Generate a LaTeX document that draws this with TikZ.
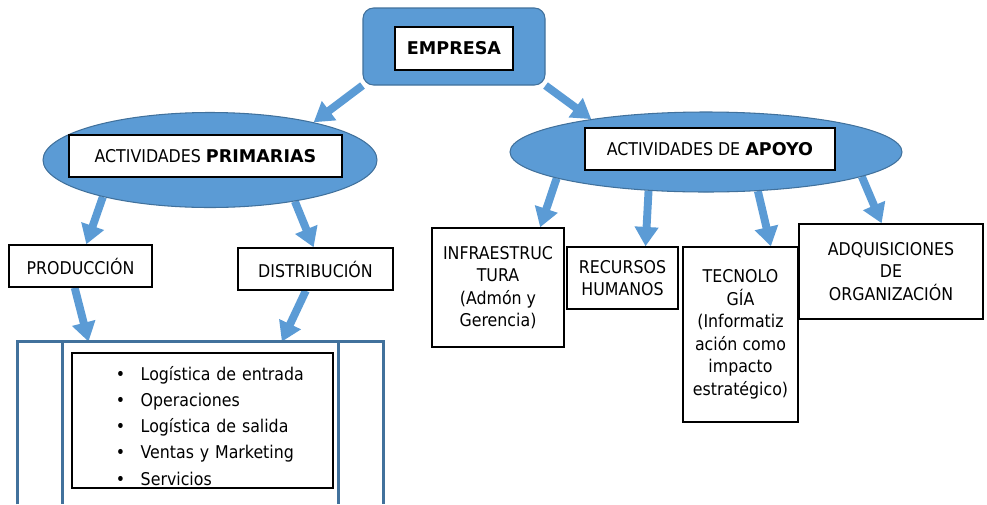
\documentclass[tikz,border=0pt]{standalone}
\usepackage{fontspec}
\setmainfont{DejaVu Sans Condensed}[BoldFont=DejaVu Sans Bold]
\usepackage{xcolor}
\usepackage{tikz}
\usetikzlibrary{shapes.geometric, arrows.meta, backgrounds}
\definecolor{azul}{HTML}{5B9BD5}
\definecolor{azuloscuro}{HTML}{41719C}
\newcommand{\puntolista}[1]{\hspace*{0.84cm}\makebox[0.5cm][l]{\textbullet}#1}
\tikzset{
    caja/.style={draw, rectangle, fill=white, line width=0.8pt, align=center, inner sep=2pt},
    nube/.style={draw=azuloscuro, ellipse, fill=azul, line width=0.6pt},
    flecha/.style={-{Triangle[width=13pt,length=11pt]}, draw=azul, line width=4.5pt}
}

\begin{document}
\begin{tikzpicture}[x=0.2mm, y=-0.2mm, font=\fontsize{10}{12.8}\selectfont]
    \useasboundingbox (0,0) rectangle (987,504);

    \node[draw=azuloscuro, fill=azul, line width=0.6pt, rounded corners=6pt, minimum width=3.64cm, minimum height=1.54cm] (empresa) at (454,46.5) {};
    \node[caja, minimum width=2.36cm, minimum height=0.86cm] (empresatxt) at (454,48.5) {\textbf{EMPRESA}};

    \node[nube, minimum width=6.68cm, minimum height=1.9cm] (primarias) at (210,160) {};
    \node[caja, minimum width=5.46cm, minimum height=0.84cm] (primariastxt) at (205.5,156) {ACTIVIDADES \textbf{PRIMARIAS}};
    \node[nube, minimum width=7.84cm, minimum height=1.6cm] (apoyo) at (706,152) {};
    \node[caja, minimum width=5cm, minimum height=0.84cm] (apoyotxt) at (710,149) {ACTIVIDADES DE \textbf{APOYO}};

    \node[caja, minimum width=2.86cm, minimum height=0.84cm] (produccion) at (80.5,266) {PRODUCCIÓN};
    \node[caja, minimum width=3.1cm, minimum height=0.84cm] (distribucion) at (315.5,269) {DISTRIBUCIÓN};

    \node[rectangle, minimum width=7.3cm, minimum height=3.24cm] (cadena) at (200.5,423) {};
    \draw[azuloscuro, line width=1.4pt] (cadena.south west) -- (cadena.north west) -- (cadena.north east) -- (cadena.south east);
    \draw[azuloscuro, line width=1.4pt] ([xshift=0.9cm]cadena.north west) -- ([xshift=0.9cm]cadena.south west);
    \draw[azuloscuro, line width=1.4pt] ([xshift=-0.9cm]cadena.north east) -- ([xshift=-0.9cm]cadena.south east);
    \node[caja, minimum width=5.22cm, minimum height=2.7cm, inner xsep=0pt, inner ysep=0pt, text width=5.15cm, align=left, font=\fontsize{10}{14.9}\selectfont] (lista) at (202.5,420.5) {%
        \rule{0pt}{14pt}\puntolista{Logística de entrada}\\
        \puntolista{Operaciones}\\
        \puntolista{Logística de salida}\\
        \puntolista{Ventas y Marketing}\\
        \puntolista{Servicios}};

    \node[caja, minimum width=2.64cm, minimum height=2.38cm] (infra) at (498,287.5) {INFRAESTRUC\\TURA\\(Admón y\\Gerencia)};
    \node[caja, minimum width=2.22cm, minimum height=1.24cm] (recursos) at (622.5,278) {RECURSOS\\HUMANOS};
    \node[caja, minimum width=2.3cm, minimum height=3.5cm] (tecno) at (740.5,334.5) {TECNOLO\\GÍA\\(Informatiz\\ación como\\impacto\\estratégico)};
    \node[caja, minimum width=3.68cm, minimum height=1.9cm] (adqui) at (891,271.5) {ADQUISICIONES\\DE\\ORGANIZACIÓN};

    \begin{scope}[on background layer]
        \draw[flecha] (empresa.south west) -- (primarias.20);
        \draw[flecha] (empresa.south east) -- (apoyo.164);
        \draw[flecha] (primarias.199) -- (produccion.75);
        \draw[flecha] (primarias.334) -- (distribucion.95);
        \draw[flecha] (produccion.255) -- (cadena.144);
        \draw[flecha] (distribucion.246) -- (cadena.45);
        \draw[flecha] (apoyo.190) -- (infra.55);
        \draw[flecha] (apoyo.214) -- (recursos.54);
        \draw[flecha] (apoyo.323) -- (tecno.71);
        \draw[flecha] (apoyo.351) -- (adqui.101);
    \end{scope}
\end{tikzpicture}
\end{document}
